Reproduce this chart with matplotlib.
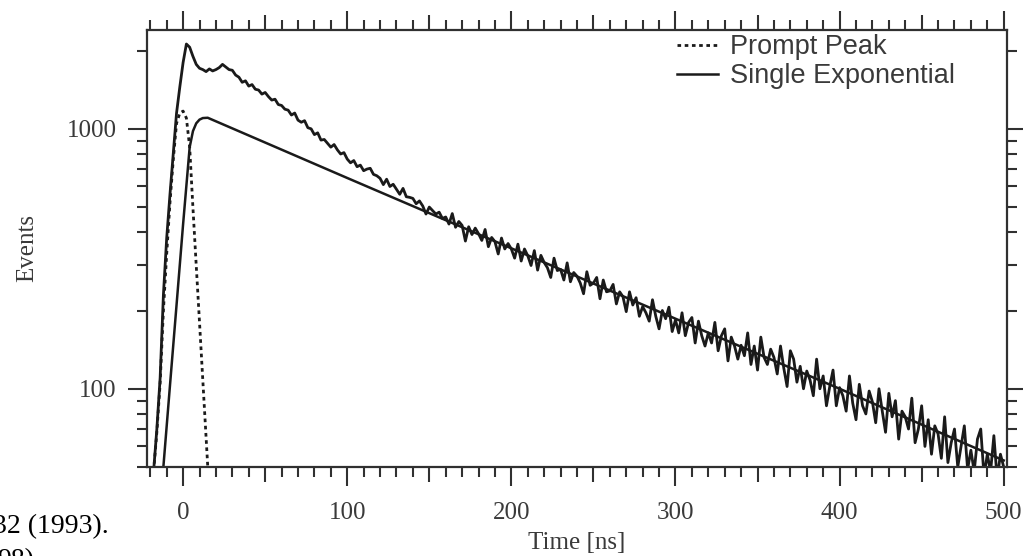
import numpy as np
import matplotlib
matplotlib.use("Agg")
import matplotlib.pyplot as plt
from matplotlib.ticker import FixedLocator, MultipleLocator, LogLocator, NullFormatter, FixedFormatter
from matplotlib.lines import Line2D

# ---------------- data ----------------
time_ns = list(range(-20, 501, 2))
events = [
    40, 48, 70, 110, 230, 380, 560, 800, 1150, 1450,            # -20 .. -2
    1800, 2120, 2060, 1900, 1770, 1710, 1690, 1660, 1700, 1670,  # 0 .. 18
    1690, 1720, 1770, 1730, 1690, 1680, 1610, 1580, 1510, 1530,  # 20 .. 38
    1460, 1480, 1420, 1410, 1360, 1380, 1330, 1290, 1300, 1240,  # 40 .. 58
    1230, 1190, 1180, 1130, 1150, 1080, 1060, 1075, 1010, 1000,  # 60 .. 78
    950, 965, 905, 910, 880, 850, 870, 830, 800, 810,            # 80 .. 98
    765, 740, 755, 715, 725, 690, 700, 705, 668, 660,            # 100 .. 118
    645, 610, 640, 600, 612, 585, 560, 590, 548, 545,            # 120 .. 138
    540, 515, 528, 505, 470, 500, 485, 470, 478, 452,            # 140 .. 158
    458, 430, 472, 418, 440, 425, 370, 420, 392, 415,            # 160 .. 178
    395, 372, 410, 352, 382, 368, 330, 380, 345, 362,            # 180 .. 198
    345, 318, 360, 310, 345, 325, 298, 340, 286, 326,            # 200 .. 218
    306, 292, 268, 318, 285, 288, 262, 305, 258, 280,            # 220 .. 238
    271, 255, 232, 282, 250, 255, 268, 222, 262, 236,            # 240 .. 258
    238, 252, 212, 236, 226, 198, 236, 210, 224, 190,            # 260 .. 278
    207, 196, 182, 220, 190, 170, 200, 186, 206, 166,            # 280 .. 298
    184, 164, 196, 160, 180, 188, 150, 182, 160, 146,            # 300 .. 318
    164, 150, 180, 140, 160, 170, 128, 158, 146, 130,            # 320 .. 338
    147, 134, 164, 124, 146, 118, 158, 132, 124, 142,            # 340 .. 358
    132, 114, 146, 120, 102, 140, 130, 106, 122, 100,            # 360 .. 378
    117, 108, 94, 130, 100, 112, 86, 102, 118, 86,               # 380 .. 398
    101, 94, 82, 112, 88, 76, 104, 86, 80, 98,                   # 400 .. 418
    89, 74, 100, 82, 68, 96, 78, 90, 64, 82,                     # 420 .. 438
    78, 70, 92, 62, 70, 86, 60, 76, 56, 72,                      # 440 .. 458
    67, 54, 78, 52, 62, 70, 50, 60, 72, 49,                      # 460 .. 478
    58, 48, 64, 70, 46, 56, 48, 66, 45, 56,                      # 480 .. 498
    50,                                                          # 500
]

prompt_time = [-20, -18, -16, -14, -12, -10, -8, -6, -4, -2, 0, 2, 4, 6, 8, 10, 12, 14, 16]
prompt_events = [40, 48, 68, 105, 200, 330, 520, 760, 1050, 1150, 1170, 1100, 850, 495, 298, 180, 108, 65, 39]

single_time = [-13, -8, -4, 0, 4, 6, 8, 10, 12, 15, 100, 200, 300, 400, 500]
single_events = [42, 103, 210, 430, 850, 980, 1050, 1085, 1100, 1103, 647, 347, 186, 100, 53]

x_major_ticks = [0, 50, 100, 150, 200, 250, 300, 350, 400, 450, 500]
x_tick_labels = ["0", "", "100", "", "200", "", "300", "", "400", "", "500"]
y_major_ticks = [100, 1000]
y_tick_labels = ["100", "1000"]
legend_labels = ["Prompt Peak", "Single Exponential"]

# ---------------- figure ----------------
W, H = 1023, 556
fig = plt.figure(figsize=(W / 100, H / 100), dpi=100)
ax = fig.add_axes([147 / W, 1 - 467 / H, (1007 - 147) / W, (467 - 30) / H])

line_col = "#1a1a1a"
spine_col = "#303030"
text_col = "#3a3a3a"
dots = (0, (1.3, 1.3))

ax.plot(time_ns, events, color=line_col, lw=2.0)
ax.plot(prompt_time, prompt_events, color=line_col, lw=2.0, linestyle=dots)
ax.plot(single_time, single_events, color=line_col, lw=1.8)

ax.set_yscale("log")
ax.set_xlim(-22, 502)
ax.set_ylim(50, 2400)

for s in ax.spines.values():
    s.set_linewidth(1.6)
    s.set_color(spine_col)

serif = ["Liberation Serif", "DejaVu Serif"]

ax.xaxis.set_major_locator(FixedLocator(x_major_ticks))
ax.xaxis.set_major_formatter(FixedFormatter(x_tick_labels))
ax.xaxis.set_minor_locator(MultipleLocator(10))
ax.yaxis.set_major_locator(FixedLocator(y_major_ticks))
ax.yaxis.set_major_formatter(FixedFormatter(y_tick_labels))
ax.yaxis.set_minor_locator(LogLocator(base=10, subs=np.arange(2, 10)))
ax.yaxis.set_minor_formatter(NullFormatter())

ax.tick_params(which="both", direction="out", top=True, right=True,
               color=spine_col, width=1.5)
ax.tick_params(which="major", length=14, labelsize=18, labelcolor=text_col)
ax.tick_params(axis="x", which="major", pad=11)
ax.tick_params(axis="y", which="major", pad=8)
ax.tick_params(which="minor", length=7)
for lab in ax.get_xticklabels() + ax.get_yticklabels():
    lab.set_fontfamily(serif)

# medium-length ticks at the 50s
for val, tk in zip(x_major_ticks, ax.xaxis.get_major_ticks(len(x_major_ticks))):
    if val % 100 != 0:
        tk.tick1line.set_markersize(10.5)
        tk.tick2line.set_markersize(10.5)

ax.set_xlabel("Time [ns]", fontsize=18, family=serif, color=text_col, labelpad=6)
ax.set_ylabel("Events", fontsize=18, family=serif, color=text_col, labelpad=20)

handles = [Line2D([], [], color=line_col, lw=2.0, linestyle=dots),
           Line2D([], [], color=line_col, lw=1.8)]
leg = fig.legend(handles, legend_labels, loc="upper left",
                 bbox_to_anchor=(677 / W, 1 - 34 / H), frameon=False,
                 borderpad=0, borderaxespad=0, handlelength=1.5, handletextpad=0.45,
                 labelspacing=0.12,
                 prop={"family": ["Liberation Sans", "DejaVu Sans"], "size": 19.5})
for t in leg.get_texts():
    t.set_color(text_col)

# fragments of surrounding document text
fig.text(-7 / W, 1 - 533 / H, "32 (1993).", fontsize=20, family=serif,
         color="black", va="baseline", ha="left")
fig.text(-3 / W, 1 - 567 / H, "98).", fontsize=20, family=serif,
         color="black", va="baseline", ha="left")

fig.savefig("out.png", dpi=100)
